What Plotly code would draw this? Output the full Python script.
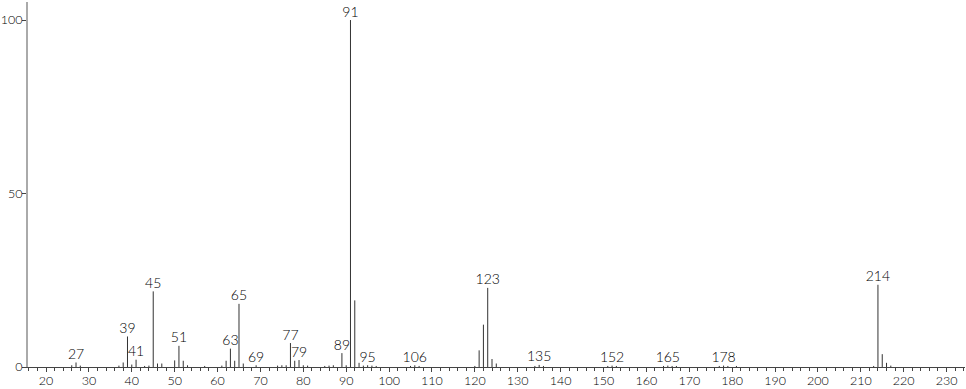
import plotly.graph_objects as go

# m/z values and relative intensities (%)
mz = [26, 27, 28, 37, 38, 39, 40, 41, 43, 44, 45, 46, 47, 50, 51, 52, 53, 57,
      61, 62, 63, 64, 65, 66, 69, 74, 75, 76, 77, 78, 79, 80, 81, 85, 86, 87,
      89, 90, 91, 92, 93, 94, 95, 96, 97, 105, 106, 107, 120, 121, 122, 123,
      124, 125, 134, 135, 136, 151, 152, 153, 164, 165, 166, 167, 177, 178,
      179, 181, 213, 214, 215, 216, 217]
intensity = [0.5, 1.3, 0.4, 0.4, 1.3, 8.8, 0.7, 2.1, 0.3, 0.4, 21.8, 1.0, 1.0,
             1.9, 6.1, 1.8, 0.5, 0.3, 0.4, 1.8, 5.3, 1.8, 18.2, 1.0, 0.5, 0.4,
             0.5, 0.5, 6.9, 1.8, 2.0, 0.5, 0.4, 0.3, 0.4, 0.5, 4.0, 0.5, 100.0,
             19.2, 1.2, 0.4, 0.5, 0.4, 0.3, 0.3, 0.5, 0.3, 0.3, 4.8, 12.2, 22.8,
             2.3, 1.0, 0.3, 0.6, 0.3, 0.3, 0.4, 0.3, 0.3, 0.4, 0.3, 0.3, 0.3,
             0.4, 0.3, 0.3, 0.3, 23.7, 3.7, 1.2, 0.4]

# labelled peaks
label_mz = [27, 39, 41, 45, 51, 63, 65, 69, 77, 79, 89, 91, 95, 106, 123, 135,
            152, 165, 178, 214]

x_ticks = [20, 30, 40, 50, 60, 70, 80, 90, 100, 110, 120, 130, 140, 150, 160,
           170, 180, 190, 200, 210, 220, 230]
y_ticks = [0, 50, 100]

lookup = dict(zip(mz, intensity))

xs, ys = [], []
for m, i in zip(mz, intensity):
    xs += [m, m, None]
    ys += [0, i, None]

fig = go.Figure()
fig.add_trace(go.Scatter(x=xs, y=ys, mode="lines",
                         line=dict(color="#333333", width=1),
                         hoverinfo="skip", showlegend=False))
fig.add_trace(go.Scatter(x=label_mz, y=[lookup[m] for m in label_mz],
                         mode="text", text=[str(m) for m in label_mz],
                         textposition="top center",
                         textfont=dict(family="Lato", size=14, color="#000000",
                                       weight=300),
                         showlegend=False, hoverinfo="skip"))

fig.update_layout(
    width=966, height=389,
    margin=dict(l=28, r=1, t=2, b=22, autoexpand=False),
    plot_bgcolor="white", paper_bgcolor="white",
    font=dict(family="Lato", size=13, color="#000000", weight=300),
)
fig.update_xaxes(range=[15.8, 234.3], tickvals=x_ticks,
                 ticktext=[str(v) for v in x_ticks],
                 showline=True, linecolor="#444444", linewidth=1,
                 ticks="outside", ticklen=4, tickcolor="#444444",
                 ticklabelstandoff=-2,
                 minor=dict(dtick=2, tick0=20, ticks="outside", ticklen=3,
                            tickcolor="#444444"),
                 showgrid=False, zeroline=False, fixedrange=True,
                 automargin=False,
                 tickfont=dict(size=12.5, weight=300, color="#000000"))
fig.update_yaxes(range=[0, 105.2], tickvals=y_ticks,
                 ticktext=[str(v) for v in y_ticks],
                 showline=True, linecolor="#aaaaaa", linewidth=2,
                 ticks="outside", ticklen=4, tickcolor="#444444",
                 ticklabelstandoff=-3,
                 showgrid=False, zeroline=False, fixedrange=True,
                 automargin=False,
                 tickfont=dict(size=12.5, weight=300, color="#000000"))

fig.write_html("out.html")
